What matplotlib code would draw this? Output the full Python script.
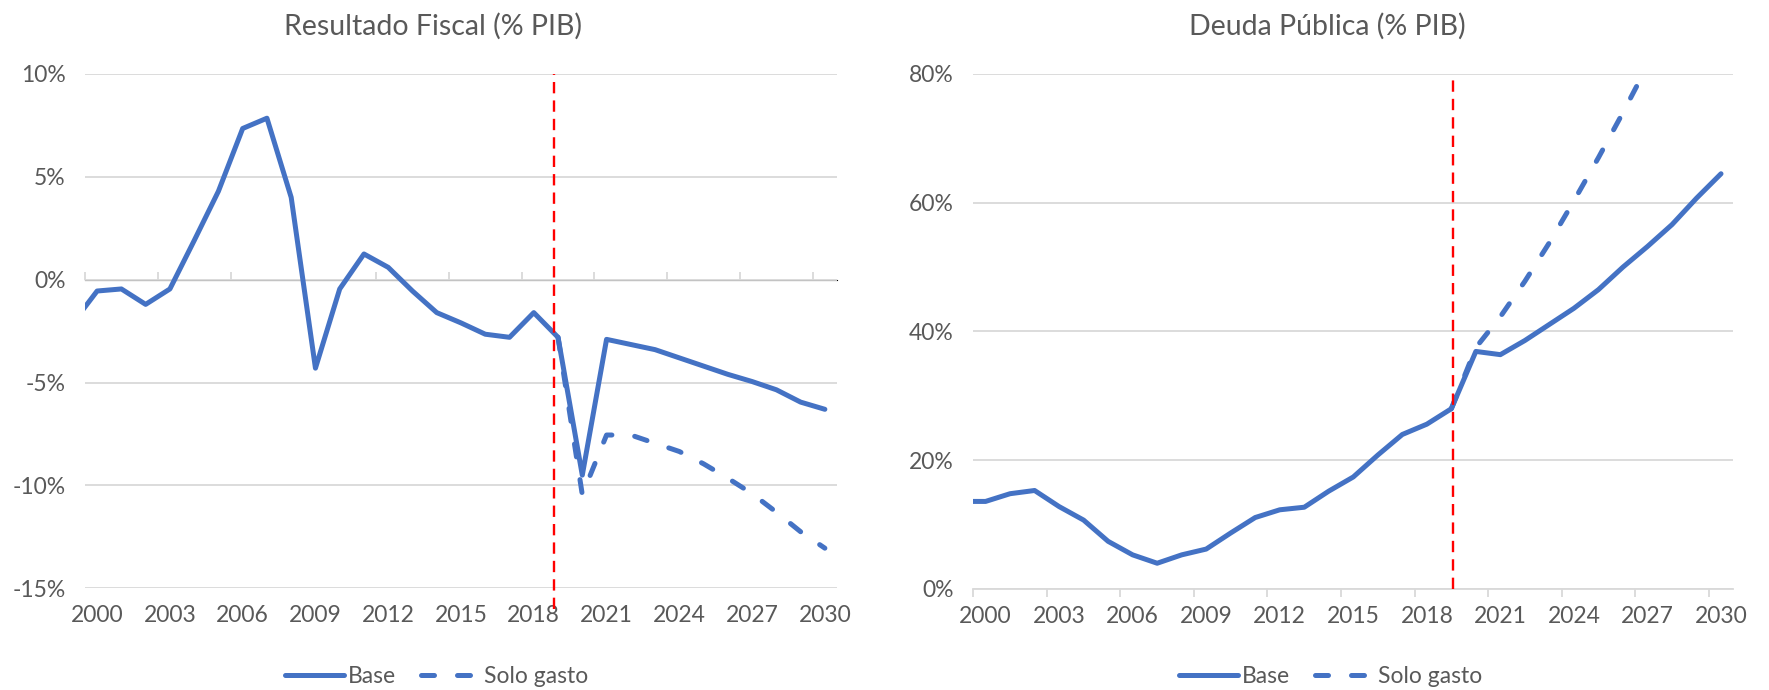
import matplotlib
matplotlib.use("Agg")
import matplotlib.pyplot as plt
from matplotlib.ticker import FuncFormatter

# Años (1999 sólo para que la línea entre desde el borde del eje)
years = list(range(1999, 2031))

# Resultado fiscal, % del PIB
fiscal_base = [-2.1, -0.55, -0.45, -1.2, -0.45, 1.9, 4.3, 7.35, 7.85, 4.0,
               -4.3, -0.45, 1.25, 0.6, -0.55, -1.6, -2.1, -2.65, -2.8, -1.6,
               -2.8, -9.5, -2.9, -3.15, -3.4, -3.8, -4.2, -4.6, -4.95, -5.35,
               -5.95, -6.3]
fiscal_years_gasto = list(range(2019, 2031))
fiscal_gasto = [-2.8, -10.45, -7.55, -7.55, -7.95, -8.35, -8.95, -9.65,
                -10.4, -11.3, -12.25, -13.05]

# Deuda pública, % del PIB
deuda_base = [13.6, 13.6, 14.8, 15.3, 12.8, 10.7, 7.4, 5.3, 4.0, 5.3,
              6.2, 8.7, 11.1, 12.3, 12.7, 15.2, 17.4, 20.8, 24.0, 25.6,
              28.0, 36.9, 36.4, 38.6, 41.1, 43.6, 46.5, 50.0, 53.2, 56.6,
              60.7, 64.5]
deuda_years_gasto = list(range(2019, 2031))
deuda_gasto = [28.0, 37.5, 42.3, 47.8, 53.8, 60.3, 67.0, 74.0, 81.3, 89.0,
               97.0, 105.5]

# Corte proyección
fiscal_corte_x = [2018.85, 2018.85]
fiscal_corte_y = [-16, 10]
deuda_corte_x = [2019.05, 2019.05]
deuda_corte_y = [0, 80]

label_years = list(range(2000, 2031, 3))
tick_bounds = [y - 0.5 for y in label_years]

BLUE = "#4472C4"
GRID = "#D9D9D9"
TXT = "#595959"
FONT = "Lato"

plt.rcParams["font.family"] = [FONT, "DejaVu Sans"]

fig = plt.figure(figsize=(17.69, 6.90), dpi=100)
ax1 = fig.add_axes([0.04805, 0.1474, 0.4251, 0.7454])
ax2 = fig.add_axes([0.5502, 0.1464, 0.4296, 0.7464])


def pct(v, _):
    return f"{v:.0f}%"


def style(ax, ylim, yticks, axis_loc, title, legend_x):
    ax.set_xlim(1999.5, 2030.5)
    ax.set_ylim(*ylim)
    ax.set_yticks(yticks)
    ax.yaxis.set_major_formatter(FuncFormatter(pct))
    ax.set_xticks(label_years)
    ax.set_xticklabels([str(y) for y in label_years])
    ax.tick_params(axis="both", length=0, labelsize=16.5, colors=TXT)
    ax.tick_params(axis="y", pad=14)
    ax.tick_params(axis="x", pad=12)
    for s in ax.spines.values():
        s.set_visible(False)
    ax.yaxis.grid(True, color=GRID, lw=1.3)
    ax.set_axisbelow(True)

    # eje horizontal con marcas entre categorías
    sec = ax.secondary_xaxis(axis_loc)
    sec.set_xticks(tick_bounds)
    sec.set_xticklabels([""] * len(tick_bounds))
    sec.tick_params(length=5.5, width=1.3, color=GRID, direction="out")
    sec.spines["bottom"].set_color(GRID)
    sec.spines["bottom"].set_linewidth(1.3)

    fig.text(legend_x, 0.962, title, ha="center", va="center",
             fontsize=20.5, color=TXT)
    ax.legend(loc="center", bbox_to_anchor=(legend_x + 0.002, 0.019),
              bbox_transform=fig.transFigure, ncol=2, frameon=False,
              fontsize=16.5, labelcolor=TXT, handlelength=2.6,
              handletextpad=0.15, columnspacing=1.1)


ax1.plot(years, fiscal_base, color=BLUE, lw=3.6, label="Base",
         solid_capstyle="round", solid_joinstyle="round")
ax1.plot(fiscal_years_gasto, fiscal_gasto, color=BLUE, lw=3.6,
         label="Solo gasto", dashes=(2.6, 4.6), dash_capstyle="round")
ax1.plot(fiscal_corte_x, fiscal_corte_y, color="#FF0000", lw=1.7,
         dashes=(4.8, 3.0), clip_on=False)
style(ax1, (-15, 10), [-15, -10, -5, 0, 5, 10], 0.6,
      "Resultado Fiscal (% PIB)", 0.2448)

ax2.plot(years, deuda_base, color=BLUE, lw=3.6, label="Base",
         solid_capstyle="round", solid_joinstyle="round")
ax2.plot(deuda_years_gasto, deuda_gasto, color=BLUE, lw=3.6,
         label="Solo gasto", dashes=(2.6, 4.6), dash_capstyle="round")
ax2.plot(deuda_corte_x, deuda_corte_y, color="#FF0000", lw=1.7,
         dashes=(4.8, 3.0))
style(ax2, (0, 80), [0, 20, 40, 60, 80], 0.0,
      "Deuda Pública (% PIB)", 0.7502)

fig.savefig("out.png", dpi=100, facecolor="white")
